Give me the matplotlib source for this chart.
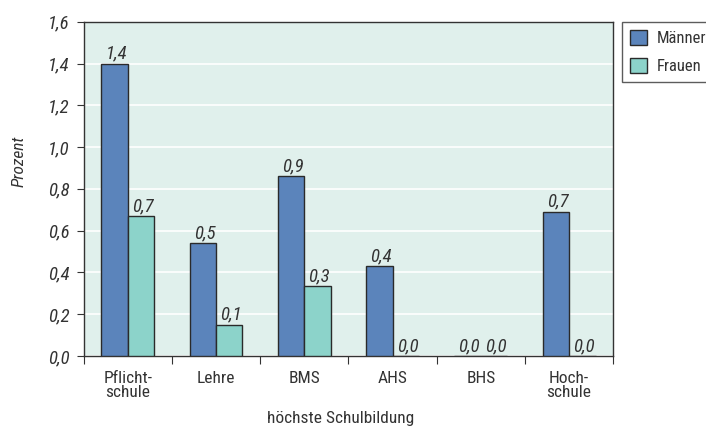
import matplotlib
matplotlib.use("Agg")
import matplotlib.pyplot as plt
from matplotlib import font_manager
import numpy as np
from matplotlib.patches import Patch

categories = ["Pflicht-\nschule", "Lehre", "BMS", "AHS", "BHS", "Hoch-\nschule"]
maenner = [1.40, 0.54, 0.86, 0.43, 0.0, 0.69]
frauen = [0.67, 0.149, 0.334, 0.0, 0.0, 0.0]
series_names = ["Männer", "Frauen"]
yticks = [0.0, 0.2, 0.4, 0.6, 0.8, 1.0, 1.2, 1.4, 1.6]

installed = {f.name for f in font_manager.fontManager.ttflist}
narrow = [n for n in ("Liberation Sans Narrow", "Roboto Condensed", "Roboto") if n in installed]
plt.rcParams["font.family"] = narrow[:1] + ["DejaVu Sans"]

c_m = "#5b84bb"
c_f = "#8cd3ca"
bg = "#e0f0ec"
txt = "#333333"
fs = 12.5
fs_num = 13.5

fig = plt.figure(figsize=(7.06, 4.29), dpi=100)
ax = fig.add_axes([0.1184, 0.170, 0.8685 - 0.1184, 0.9494 - 0.170])
ax.set_facecolor(bg)

x = np.arange(len(categories))
w = 0.3
b1 = ax.bar(x - w / 2, maenner, w, color=c_m, edgecolor="#2a2a2a", linewidth=1.0, zorder=3)
b2 = ax.bar(x + w / 2, frauen, w, color=c_f, edgecolor="#2a2a2a", linewidth=1.0, zorder=3)

def fmt(v):
    return f"{v:.1f}".replace(".", ",")

for bars, vals in ((b1, maenner), (b2, frauen)):
    for r, v in zip(bars, vals):
        ax.text(r.get_x() + r.get_width() / 2 + 0.02, v + 0.005, fmt(v), ha="center", va="bottom",
                fontsize=fs_num, style="italic", color=txt, zorder=4)

ax.set_xlim(-0.5, len(categories) - 0.5)
ax.set_ylim(0, 1.6)
ax.set_yticks(yticks)
ax.set_yticklabels([fmt(t) for t in yticks], fontsize=fs_num, style="italic", color=txt)
ax.yaxis.grid(True, color="white", linewidth=1.2, zorder=0)
ax.set_axisbelow(True)

# category names centred under the groups, tick marks at group boundaries
ax.set_xticks(np.arange(len(categories) + 1) - 0.5)
ax.set_xticklabels([])
ax.set_xticks(x, minor=True)
ax.set_xticklabels(categories, minor=True, fontsize=fs, color=txt, linespacing=0.92)
ax.tick_params(axis="x", which="minor", length=0, pad=11)
ax.tick_params(axis="x", which="major", length=6, color="#333333")
ax.tick_params(axis="y", length=5, color="#333333", pad=5)

for s in ax.spines.values():
    s.set_color("#333333")
    s.set_linewidth(1.0)

fig.text(19 / 706, 1 - 161 / 429, "Prozent", rotation=90, ha="center", va="center",
         fontsize=fs, style="italic", color=txt)
fig.text(340.5 / 706, 1 - 419 / 429, "höchste Schulbildung", ha="center", va="center",
         fontsize=fs, color=txt)

handles = [Patch(facecolor=c_m, edgecolor="#2a2a2a"), Patch(facecolor=c_f, edgecolor="#2a2a2a")]
leg = fig.legend(handles, series_names, loc="upper left", bbox_to_anchor=(622 / 706, 1 - 21.5 / 429),
                 frameon=True, fancybox=False, edgecolor="#333333", fontsize=12,
                 handlelength=1.0, handleheight=1.0, borderpad=0.5, labelspacing=0.7,
                 handletextpad=0.6, borderaxespad=0)
leg.get_frame().set_linewidth(1.0)
for t in leg.get_texts():
    t.set_color(txt)

fig.savefig("out.png", dpi=100)
